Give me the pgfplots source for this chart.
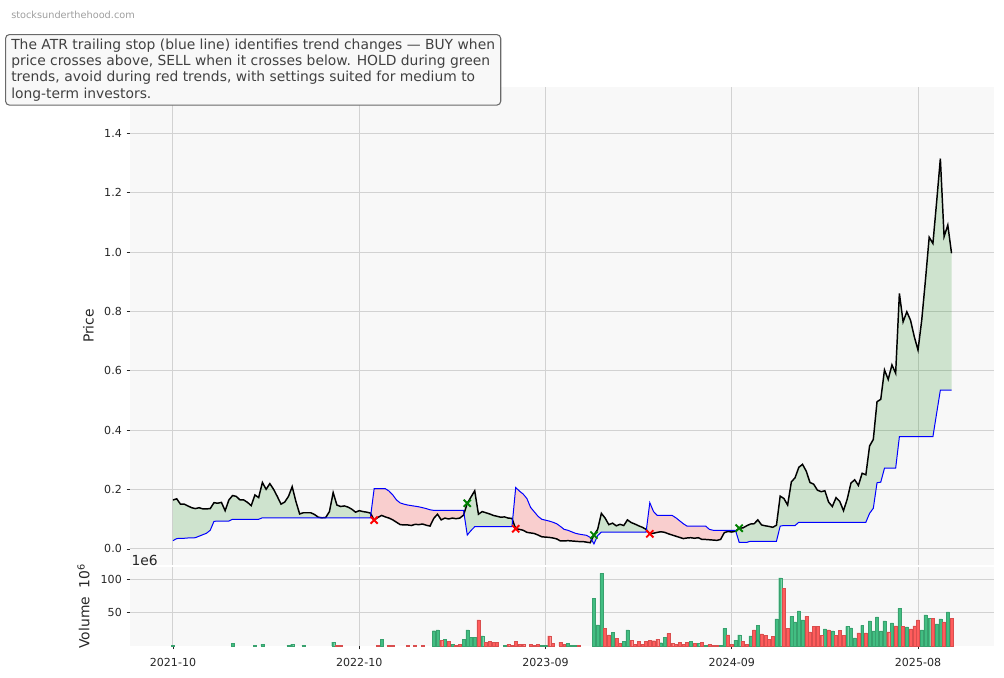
\documentclass[border=0pt]{standalone}
\usepackage{fontspec}
\setmainfont{DejaVu Sans}
\usepackage{pgfplots}
\usepackage{pgfplotstable}
\pgfplotsset{compat=1.18}
\usepgfplotslibrary{fillbetween}

\definecolor{panelbg}{RGB}{248,248,248}
\definecolor{gridc}{RGB}{210,210,210}
\definecolor{volgreen}{RGB}{66,190,130}
\definecolor{volred}{RGB}{255,92,92}
\definecolor{txt}{RGB}{38,38,38}
\definecolor{boxedge}{RGB}{105,105,105}
\definecolor{titletxt}{RGB}{64,64,64}
\definecolor{upgreen}{RGB}{0,128,0}

% weekly bars: index, close, ATR trailing stop
\pgfplotstableread{
i c s
0 0.165 0.028
1 0.169 0.035
2 0.151 0.036
3 0.151 0.036
4 0.145 0.037
5 0.139 0.037
6 0.136 0.038
7 0.139 0.043
8 0.135 0.048
9 0.135 0.053
10 0.136 0.063
11 0.156 0.093
12 0.154 0.094
13 0.157 0.094
14 0.129 0.094
15 0.165 0.094
16 0.180 0.100
17 0.177 0.100
18 0.165 0.100
19 0.165 0.100
20 0.157 0.100
21 0.146 0.100
22 0.182 0.100
23 0.173 0.100
24 0.224 0.105
25 0.201 0.105
26 0.220 0.105
27 0.201 0.105
28 0.177 0.105
29 0.151 0.105
30 0.158 0.105
31 0.177 0.105
32 0.210 0.105
33 0.160 0.105
34 0.118 0.105
35 0.122 0.105
36 0.122 0.105
37 0.122 0.105
38 0.116 0.105
39 0.107 0.105
40 0.105 0.105
41 0.106 0.105
42 0.126 0.105
43 0.190 0.105
44 0.148 0.105
45 0.143 0.105
46 0.145 0.105
47 0.141 0.105
48 0.134 0.105
49 0.124 0.105
50 0.129 0.105
51 0.126 0.105
52 0.124 0.105
53 0.121 0.105
54 0.097 0.203
55 0.106 0.203
56 0.113 0.203
57 0.108 0.203
58 0.104 0.195
59 0.098 0.182
60 0.090 0.165
61 0.082 0.155
62 0.081 0.151
63 0.081 0.148
64 0.079 0.146
65 0.083 0.144
66 0.082 0.142
67 0.084 0.139
68 0.080 0.136
69 0.077 0.132
70 0.103 0.130
71 0.117 0.130
72 0.098 0.130
73 0.104 0.130
74 0.101 0.130
75 0.104 0.130
76 0.102 0.130
77 0.104 0.130
78 0.114 0.130
79 0.154 0.047
80 0.175 0.062
81 0.196 0.075
82 0.117 0.075
83 0.126 0.075
84 0.122 0.075
85 0.118 0.075
86 0.113 0.075
87 0.110 0.075
88 0.107 0.075
89 0.108 0.075
90 0.104 0.075
91 0.103 0.075
92 0.068 0.207
93 0.066 0.195
94 0.063 0.185
95 0.056 0.170
96 0.054 0.140
97 0.052 0.125
98 0.047 0.110
99 0.041 0.100
100 0.040 0.097
101 0.039 0.094
102 0.037 0.090
103 0.034 0.085
104 0.027 0.076
105 0.027 0.066
106 0.028 0.063
107 0.027 0.058
108 0.026 0.053
109 0.025 0.050
110 0.025 0.048
111 0.023 0.046
112 0.021 0.039
113 0.047 0.017
114 0.066 0.045
115 0.120 0.057
116 0.104 0.057
117 0.082 0.057
118 0.087 0.057
119 0.078 0.057
120 0.083 0.057
121 0.079 0.057
122 0.098 0.057
123 0.089 0.057
124 0.084 0.057
125 0.078 0.057
126 0.073 0.057
127 0.066 0.057
128 0.051 0.156
129 0.053 0.126
130 0.056 0.113
131 0.058 0.113
132 0.056 0.113
133 0.051 0.113
134 0.047 0.113
135 0.043 0.105
136 0.039 0.095
137 0.035 0.085
138 0.037 0.077
139 0.038 0.077
140 0.036 0.077
141 0.038 0.077
142 0.032 0.077
143 0.032 0.077
144 0.031 0.066
145 0.030 0.063
146 0.029 0.063
147 0.032 0.063
148 0.055 0.063
149 0.059 0.063
150 0.057 0.063
151 0.060 0.063
152 0.070 0.022
153 0.071 0.022
154 0.078 0.022
155 0.084 0.026
156 0.085 0.026
157 0.098 0.026
158 0.081 0.026
159 0.078 0.026
160 0.076 0.026
161 0.073 0.026
162 0.080 0.026
163 0.178 0.077
164 0.170 0.079
165 0.148 0.079
166 0.226 0.079
167 0.240 0.079
168 0.275 0.090
169 0.285 0.090
170 0.262 0.090
171 0.224 0.090
172 0.218 0.090
173 0.198 0.090
174 0.193 0.090
175 0.196 0.090
176 0.158 0.090
177 0.143 0.090
178 0.173 0.090
179 0.160 0.090
180 0.129 0.090
181 0.168 0.090
182 0.222 0.090
183 0.233 0.090
184 0.214 0.090
185 0.255 0.090
186 0.250 0.090
187 0.347 0.120
188 0.369 0.137
189 0.496 0.223
190 0.504 0.225
191 0.603 0.272
192 0.571 0.272
193 0.620 0.272
194 0.592 0.272
195 0.861 0.378
196 0.765 0.378
197 0.799 0.378
198 0.770 0.378
199 0.715 0.378
200 0.670 0.378
201 0.771 0.378
202 0.906 0.378
203 1.050 0.378
204 1.029 0.378
205 1.169 0.457
206 1.315 0.535
207 1.052 0.535
208 1.091 0.535
209 0.996 0.535
}\pricedata

% volume in millions, up weeks
\pgfplotstableread{
i v
0 1
16 4.5
22 1
24 3
31 1
32 3
35 1
43 6
56 10.5
70 23
71 24
73 10
75 2.5
78 10.5
79 24
80 13
81 13
83 15
89 1
99 1
100 1
106 4
107 1
108 1
113 71.5
114 31.5
115 109
118 20.5
121 7.5
122 24
131 5
132 13
139 7.5
141 4
143 1
147 1
148 26.5
151 9
152 16.5
155 15
157 31
162 40.5
163 102
166 44.5
167 36
168 52.5
169 39
175 25.5
177 22.5
181 29.5
182 27
183 12
185 31
187 37.5
188 22.5
189 43.5
190 22.5
191 37.5
193 34.5
195 56.5
197 28.5
201 24
202 46.5
203 41.5
205 33
206 40.5
208 51
}\volup

% volume in millions, down weeks
\pgfplotstableread{
i v
44 1.5
45 1.5
55 1
58 1.5
59 1.5
63 1
65 1
67 1
72 9
74 7.5
76 1.5
77 2.5
82 39
84 5.5
85 7.5
86 5.5
87 6
90 2.5
91 1
92 7.5
93 2.5
94 2.5
96 2.5
97 1.5
98 2.5
101 15
102 4
104 6
105 3
109 1
116 26.5
117 16.5
119 11.5
120 4
123 9
124 3
125 7.5
126 3
127 7.5
128 9
129 8
130 10.5
133 19
134 4
135 2.5
136 6
137 3
138 6
140 4
142 6
144 2.5
145 1
146 1
149 16.5
150 2.5
153 7.5
154 3
156 24
158 18
159 16
160 10.5
161 14.5
164 86.5
165 26.5
170 44.5
171 21
172 29.5
173 29.5
174 16
176 24
178 16
179 23.5
180 16
184 19.5
186 19.5
192 21
194 30
196 29.5
198 25.5
199 30
200 39
204 41.5
207 36
209 41.5
}\voldown

\pgfplotsset{
  panel/.style={
    scale only axis, width=648pt,
    xmin=-11.54, xmax=220.4,
    axis background/.style={fill=panelbg},
    axis line style={draw=none},
    grid=major, major grid style={gridc, line width=0.75pt},
    tick align=outside, major tick length=2.6pt,
    tick style={txt, line width=0.6pt},
    ytick pos=left, xtick pos=bottom,
    xtick={0,50,100,150,200},
    tick label style={font=\fontsize{8.3}{10}\selectfont, text=txt},
    set layers,
  },
}

\begin{document}
\begin{tikzpicture}

\begin{axis}[panel,
  at={(97.5pt,-65.25pt)}, anchor=north west,
  height=358.5pt,
  ymin=-0.054, ymax=1.556,
  ytick={0,0.2,0.4,0.6,0.8,1.0,1.2,1.4},
  yticklabels={0.0,0.2,0.4,0.6,0.8,1.0,1.2,1.4},
  xticklabels={}, x tick style={draw=none},
]
\addplot[name path=price, black, line width=1.1pt] table[x=i, y=c] {\pricedata};
\addplot[name path=stop, blue, line width=0.75pt] table[x=i, y=s] {\pricedata};

\addplot[draw=none, fill=upgreen, fill opacity=0.17] fill between[of=price and stop, soft clip={domain=0:53.5}];
\addplot[draw=none, fill=red, fill opacity=0.17] fill between[of=price and stop, soft clip={domain=53.5:78.5}];
\addplot[draw=none, fill=upgreen, fill opacity=0.17] fill between[of=price and stop, soft clip={domain=78.5:91.5}];
\addplot[draw=none, fill=red, fill opacity=0.17] fill between[of=price and stop, soft clip={domain=91.5:112.5}];
\addplot[draw=none, fill=upgreen, fill opacity=0.17] fill between[of=price and stop, soft clip={domain=112.5:127.5}];
\addplot[draw=none, fill=red, fill opacity=0.17] fill between[of=price and stop, soft clip={domain=127.5:151.5}];
\addplot[draw=none, fill=upgreen, fill opacity=0.17] fill between[of=price and stop, soft clip={domain=151.5:209}];

\addplot[only marks, mark=x, mark size=3.8pt, red, line width=1.4pt] coordinates {(54,0.097) (92,0.068) (128,0.051)};
\addplot[only marks, mark=x, mark size=3.8pt, upgreen, line width=1.4pt] coordinates {(79,0.154) (113,0.047) (152,0.070)};
\end{axis}

\begin{axis}[panel,
  at={(97.5pt,-425.25pt)}, anchor=north west,
  height=59.25pt,
  ymin=0, ymax=118.4,
  ytick={50,100}, yticklabels={50,100},
  xticklabels={2021-10,2022-10,2023-09,2024-09,2025-08},
  xticklabel style={yshift=-3pt},
  clip=false,
]
\addplot[ybar, bar width=0.8, bar shift=0pt, fill=volgreen, draw=volgreen!85!black, line width=0.2pt] table[x=i, y=v] {\volup};
\addplot[ybar, bar width=0.8, bar shift=0pt, fill=volred, draw=volred!85!black, line width=0.2pt] table[x=i, y=v] {\voldown};
\node[anchor=south west, inner sep=1pt, font=\fontsize{10.4}{12}\selectfont, text=txt] at (rel axis cs:0,1) {1e6};
\end{axis}

\node[rotate=90, font=\fontsize{10.4}{12}\selectfont, text=txt] at (66.4pt,-244.5pt) {Price};
\node[rotate=90, font=\fontsize{10.4}{12}\selectfont, text=txt] at (62.6pt,-454.5pt) {Volume\ \ 10\textsuperscript{6}};

\node[anchor=west, inner sep=0pt, font=\fontsize{7.3}{9}\selectfont, text=black!38] at (8.25pt,-11.25pt) {stocksunderthehood.com};

\node[anchor=north west, draw=boxedge, fill=panelbg, rounded corners=3pt, line width=0.8pt,
  inner xsep=4.3pt, inner ysep=3pt, align=left,
  font=\fontsize{10.4}{12.3}\selectfont, text=titletxt] at (3.75pt,-25.5pt)
  {The ATR trailing stop (blue line) identifies trend changes — BUY when\\
   price crosses above, SELL when it crosses below. HOLD during green\\
   trends, avoid during red trends, with settings suited for medium to\\
   long-term investors.};

\path (0,0) rectangle (753pt,-508.5pt);
\end{tikzpicture}
\end{document}
